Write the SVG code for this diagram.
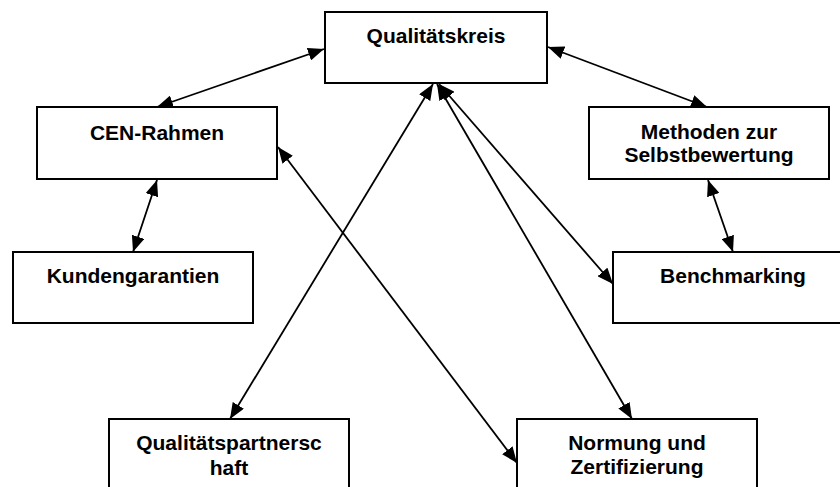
<svg xmlns="http://www.w3.org/2000/svg" width="840" height="487" viewBox="0 0 840 487">
  <style>
    .box { fill: #ffffff; stroke: #000000; stroke-width: 2; }
    .lbl { font-family: "Liberation Sans", Arial, sans-serif; font-weight: bold; font-size: 21px; fill: #000000; text-anchor: middle; }
    .link { stroke: #000000; stroke-width: 1.8; fill: none; marker-start: url(#head); marker-end: url(#head); }
  </style>
  <defs>
    <marker id="head" viewBox="0 0 16 13" refX="16" refY="6.5" markerWidth="16" markerHeight="13" markerUnits="userSpaceOnUse" orient="auto-start-reverse">
      <path d="M0,0 L16,6.5 L0,13 Z" fill="#000000"/>
    </marker>
  </defs>
  <rect width="840" height="487" fill="#ffffff"/>

  <g id="connectors">
    <line class="link" x1="324" y1="49" x2="157" y2="107"/>
    <line class="link" x1="548" y1="47" x2="707" y2="107"/>
    <line class="link" x1="157" y1="180" x2="133" y2="252"/>
    <line class="link" x1="708" y1="180" x2="733" y2="252"/>
    <line class="link" x1="433" y1="84" x2="230" y2="419"/>
    <line class="link" x1="437" y1="84" x2="632" y2="419"/>
    <line class="link" x1="439" y1="84" x2="613" y2="284"/>
    <line class="link" x1="278" y1="147" x2="517" y2="463"/>
  </g>

  <g id="qualitaetskreis">
    <rect class="box" x="325" y="12" width="222" height="71"/>
    <text class="lbl" x="436" y="43">Qualitätskreis</text>
  </g>
  <g id="cen-rahmen">
    <rect class="box" x="37" y="107" width="240" height="72"/>
    <text class="lbl" x="157" y="140">CEN-Rahmen</text>
  </g>
  <g id="selbstbewertung">
    <rect class="box" x="589" y="107" width="240" height="72"/>
    <text class="lbl" x="709" y="139">Methoden zur</text>
    <text class="lbl" x="709" y="162">Selbstbewertung</text>
  </g>
  <g id="kundengarantien">
    <rect class="box" x="13" y="252" width="240" height="71"/>
    <text class="lbl" x="133" y="283">Kundengarantien</text>
  </g>
  <g id="benchmarking">
    <rect class="box" x="613" y="252" width="240" height="71"/>
    <text class="lbl" x="733" y="283">Benchmarking</text>
  </g>
  <g id="qualitaetspartnerschaft">
    <rect class="box" x="109" y="419" width="240" height="72"/>
    <text class="lbl" x="229" y="450">Qualitätspartnersc</text>
    <text class="lbl" x="229" y="475">haft</text>
  </g>
  <g id="normung">
    <rect class="box" x="517" y="419" width="240" height="72"/>
    <text class="lbl" x="637" y="450">Normung und</text>
    <text class="lbl" x="637" y="474">Zertifizierung</text>
  </g>
</svg>
